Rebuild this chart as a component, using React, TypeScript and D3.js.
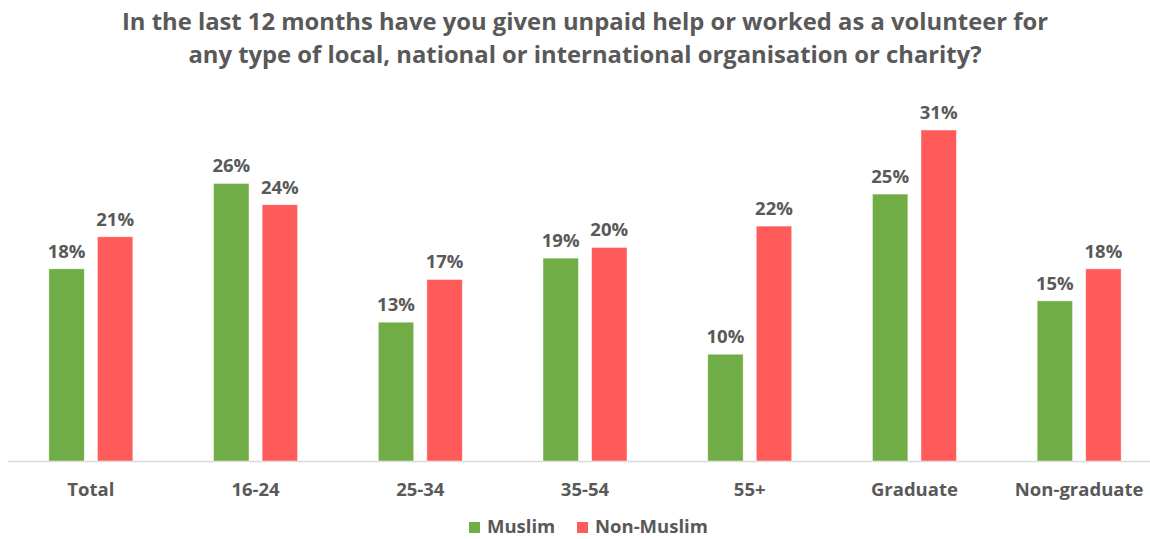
import React from "react";
import * as d3 from "d3";

const WIDTH = 1150;
const HEIGHT = 539;
const FONT = "'Open Sans', 'Noto Sans', sans-serif";
const TEXT_COLOR = "#595959";

const categories = ["Total", "16-24", "25-34", "35-54", "55+", "Graduate", "Non-graduate"];
const muslim = [18, 26, 13, 19, 10, 25, 15];
const nonMuslim = [21, 24, 17, 20, 22, 31, 18];
const seriesNames = ["Muslim", "Non-Muslim"];
const seriesColors = ["#70AD47", "#FF5B5B"];

const titleLines = [
  "In the last 12 months have you given unpaid help or worked as a volunteer for",
  "any type of local, national or international organisation or charity?",
];

const BASELINE = 461;

export default function App() {
  const x = d3.scaleBand<string>().domain(categories).range([8.5, 1161.5]).paddingInner(0).paddingOuter(0);
  const xInner = d3.scaleBand<string>().domain(seriesNames).range([0, 84]).paddingInner(0.27).paddingOuter(0);
  const y = d3.scaleLinear().domain([0, 31]).range([BASELINE, 130]);

  const series = [muslim, nonMuslim];

  return (
    <svg width={WIDTH} height={HEIGHT} style={{ position: "absolute", left: 0, top: 0, background: "#fff" }}>
      {titleLines.map((t, i) => (
        <text
          key={i}
          x={585}
          y={30 + i * 33}
          textAnchor="middle"
          fontFamily={FONT}
          fontWeight="bold"
          fontSize={23.8}
          fill={TEXT_COLOR}
        >
          {t}
        </text>
      ))}

      <line x1={8} x2={WIDTH} y1={BASELINE + 0.5} y2={BASELINE + 0.5} stroke="#d9d9d9" strokeWidth={1.5} />

      {categories.map((c, ci) => {
        const center = (x(c) ?? 0) + x.bandwidth() / 2;
        const gx = center - 42;
        return (
          <g key={c}>
            {series.map((vals, si) => {
              const bx = gx + (xInner(seriesNames[si]) ?? 0);
              const by = y(vals[ci]);
              return (
                <g key={si}>
                  <rect
                    x={bx}
                    y={by}
                    width={xInner.bandwidth()}
                    height={BASELINE - by}
                    fill={seriesColors[si]}
                    stroke="#fff"
                    strokeOpacity={0.6}
                    strokeWidth={0.75}
                  />
                  <text
                    x={bx + xInner.bandwidth() / 2}
                    y={by - 11}
                    textAnchor="middle"
                    fontFamily={FONT}
                    fontWeight="bold"
                    fontSize={18.5}
                    fill={TEXT_COLOR}
                  >
                    {vals[ci]}%
                  </text>
                </g>
              );
            })}
            <text
              x={center}
              y={496}
              textAnchor="middle"
              fontFamily={FONT}
              fontWeight="bold"
              fontSize={18.5}
              fill={TEXT_COLOR}
            >
              {c}
            </text>
          </g>
        );
      })}

      {seriesNames.map((s, i) => {
        const lx = i === 0 ? 469 : 577;
        return (
          <g key={s}>
            <rect x={lx} y={522} width={11} height={11} fill={seriesColors[i]} />
            <text x={lx + 18} y={533} fontFamily={FONT} fontWeight="bold" fontSize={18.5} fill={TEXT_COLOR}>
              {s}
            </text>
          </g>
        );
      })}
    </svg>
  );
}
